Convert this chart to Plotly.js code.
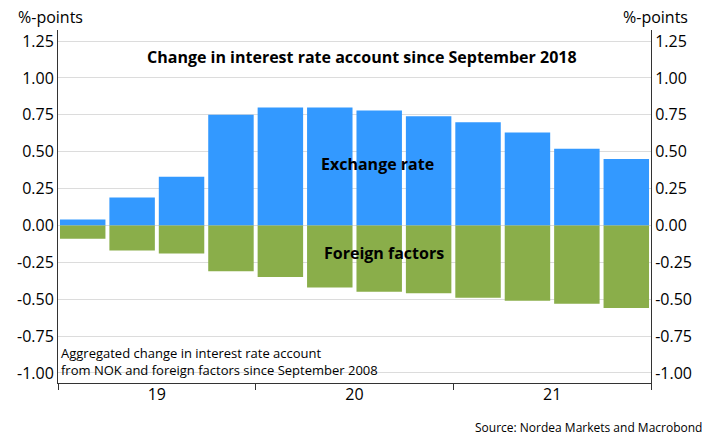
<!DOCTYPE html>
<html><head><meta charset="utf-8">
<script src="https://cdn.plot.ly/plotly-3.0.1.min.js"></script>
<style>body{margin:0}#c{width:710px;height:448px}</style>
</head><body><div id="c"></div>
<script>
// quarters 2019Q1 .. 2021Q4
const quarters = [0,1,2,3,4,5,6,7,8,9,10,11];
const exchangeRate = [0.04,0.19,0.33,0.75,0.80,0.80,0.78,0.74,0.70,0.63,0.52,0.45];
const foreignFactors = [-0.09,-0.17,-0.19,-0.31,-0.35,-0.42,-0.45,-0.46,-0.49,-0.51,-0.53,-0.56];
const yearLabels = ['19','20','21'];
const yearCenters = [1.5,5.5,9.5];
const yearBounds = [-0.5,3.5,7.5,11.5];
const yTicks = [-1,-0.75,-0.5,-0.25,0,0.25,0.5,0.75,1,1.25];

const fnt = {family:'Open Sans, sans-serif', size:16, color:'#000'};
const yr = [-1.068,1.325];
const yTxt = yTicks.map(v=>v.toFixed(2));

const traces = [
  {x:quarters, y:exchangeRate, type:'bar', marker:{color:'#3399ff'}, hoverinfo:'y'},
  {x:quarters, y:foreignFactors, type:'bar', marker:{color:'#8aae4a'}, hoverinfo:'y'},
  {x:[0], y:[0], xaxis:'x2', yaxis:'y2', type:'scatter', mode:'markers', marker:{opacity:0}, hoverinfo:'skip'}
];

const layout = {
  width:710, height:448, showlegend:false, barmode:'relative', bargap:0.08,
  margin:{l:58,r:59,t:30,b:65},
  paper_bgcolor:'white', plot_bgcolor:'white', font:fnt,
  xaxis:{range:[-0.5,11.5], tickvals:yearCenters, ticktext:yearLabels, ticks:'',
         showgrid:false, zeroline:false, showline:false, tickfont:{size:16}},
  xaxis2:{overlaying:'x', range:[-0.5,11.5], tickvals:yearBounds, ticks:'outside', ticklen:6,
          tickcolor:'#333', showticklabels:false, showgrid:false, zeroline:false,
          showline:true, linecolor:'#333'},
  yaxis:{range:yr, tickvals:yTicks, ticktext:yTxt, showgrid:true, gridcolor:'#dcdcdc',
         zeroline:false, showline:true, linecolor:'#333', ticks:'', tickfont:{size:16}},
  yaxis2:{overlaying:'y', side:'right', range:yr, tickvals:yTicks, ticktext:yTxt,
          showgrid:false, zeroline:false, showline:true, linecolor:'#333', ticks:'', tickfont:{size:16}},
  annotations:[
    {xref:'paper',yref:'paper',x:-0.07,y:1.0,yshift:0,xanchor:'left',yanchor:'bottom',text:'%-points',showarrow:false,font:{size:16}},
    {xref:'paper',yref:'paper',x:1.065,y:1.0,yshift:0,xanchor:'right',yanchor:'bottom',text:'%-points',showarrow:false,font:{size:16}},
    {xref:'paper',yref:'paper',x:0.512,y:0.96,yanchor:'top',text:'<b>Change in interest rate account since September 2018</b>',showarrow:false,font:{size:16}},
    {xref:'x',yref:'y',x:5.97,y:0.42,text:'<b>Exchange rate</b>',showarrow:false,font:{size:16}},
    {xref:'x',yref:'y',x:6.1,y:-0.19,text:'<b>Foreign factors</b>',showarrow:false,font:{size:16}},
    {xref:'paper',yref:'paper',x:0.002,y:0.0,yshift:2,xanchor:'left',yanchor:'bottom',align:'left',
     text:'Aggregated change in interest rate account<br>from NOK and foreign factors since September 2008',showarrow:false,font:{size:13}},
    {xref:'paper',yref:'paper',x:1.09,y:-0.127,xanchor:'right',yanchor:'middle',text:'Source: Nordea Markets and Macrobond',showarrow:false,font:{size:12}}
  ]
};
Plotly.newPlot('c', traces, layout, {displayModeBar:false, staticPlot:true});
</script></body></html>
